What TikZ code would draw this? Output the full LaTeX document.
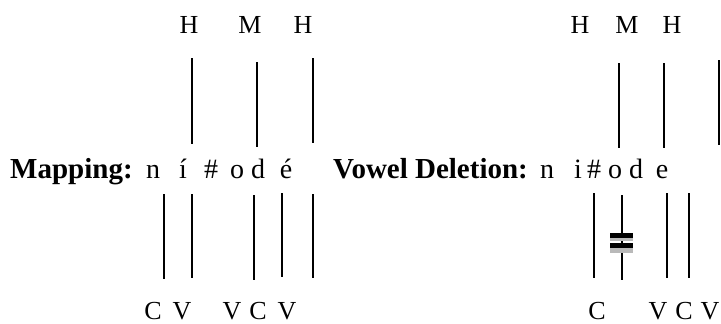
\documentclass[tikz,border=0pt]{standalone}
\usepackage{fontspec}
\setmainfont{Liberation Serif}
\begin{document}
\begin{tikzpicture}[x=1pt,y=-1pt,
  lbl/.style={inner sep=0pt, anchor=base, font=\fontsize{26}{30}\selectfont},
  seg/.style={lbl, font=\fontsize{28}{32}\selectfont},
  head/.style={lbl, anchor=base west, font=\fontsize{29}{33}\selectfont\bfseries},
  assoc/.style={line width=1.4pt},
  bar/.style={fill=black, draw=none},
  barshade/.style={fill=gray!55, draw=none}]
\useasboundingbox (0,0) rectangle (721,324);
% labels
\node[head] (map) at (10,178) {Mapping:};
\node[head] (vd) at (333,178) {Vowel Deletion:};
% top tones
\foreach \n/\x/\t in {t1/189/H, t2/250/M, t3/303/H, u1/580/H, u2/627/M, u3/672/H}
  \node[lbl] (\n) at (\x,33) {\t};
% middle segments
\foreach \n/\x/\t in {m1/153/n, m2/183/í, m3/211/\#, m4/237/o, m5/258/d, m6/286/é,
                      r1/547/n, r2/578/i, r3/594/\#, r4/615/o, r5/636/d, r6/662/e}
  \node[seg] (\n) at (\x,178) {\t};
% bottom skeleton
\foreach \n/\x/\t in {b1/153/C, b2/182/V, b3/232/V, b4/258/C, b5/287/V,
                      c1/597/C, c2/658/V, c3/684/C, c4/710/V}
  \node[lbl] (\n) at (\x,319) {\t};
% upper association lines
\foreach \n/\x/\a/\b in {ua/192/58/144, ub/257/62/147, uc/313/58/143,
                         va/619/63/148, vb/664/63/148, vc/719/60/145}{
  \coordinate (\n-top) at (\x,\a);
  \coordinate (\n-bot) at (\x,\b);
  \draw[assoc] (\n-top) -- (\n-bot);
}
% lower association lines
\foreach \n/\x/\a/\b in {la/164/194/279, lb/192/194/278, lc/254/195/280, ld/282/193/277, le/313/194/278,
                         wa/594/193/278, wb/622/195/280, wc/667/193/278, wd/689/193/278}{
  \coordinate (\n-top) at (\x,\a);
  \coordinate (\n-bot) at (\x,\b);
  \draw[assoc] (\n-top) -- (\n-bot);
}
% delinking mark
\fill[barshade] (610,238) rectangle (633,241);
\fill[barshade] (610,248) rectangle (633,253);
\fill[bar] (610,233) rectangle (633,238);
\fill[bar] (610,243) rectangle (633,248);
\end{tikzpicture}
\end{document}
